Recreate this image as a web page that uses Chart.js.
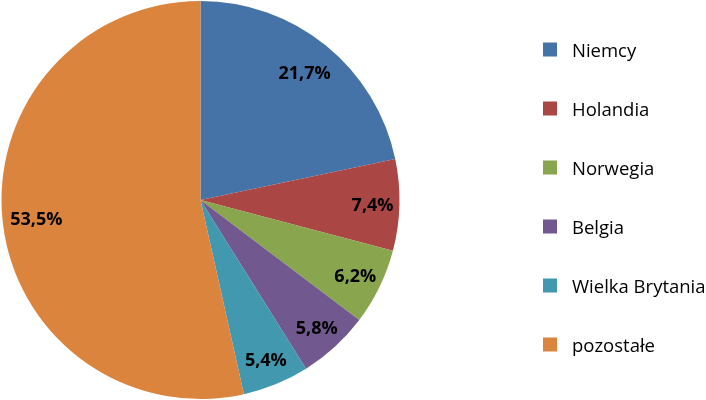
<!DOCTYPE html>
<html>
<head>
<meta charset="utf-8">
<script src="https://cdn.jsdelivr.net/npm/chart.js@4/dist/chart.umd.min.js"></script>
<style>
    html, body { margin: 0; padding: 0; background: #fff; }
    #wrap { position: relative; width: 706px; height: 400px; }
</style>
</head>
<body>
<div id="wrap"><canvas id="pie"></canvas></div>
<script>
const countries = ['Niemcy', 'Holandia', 'Norwegia', 'Belgia', 'Wielka Brytania', 'pozostałe'];
const shares = [21.7, 7.4, 6.2, 5.8, 5.4, 53.5];
const sliceColors = ['#4572A7', '#AA4643', '#89A54E', '#71588F', '#4198AF', '#DB843D'];

const FONT = '"Open Sans", "DejaVu Sans", sans-serif';

// percentage labels inside the slices
const sliceLabels = {
    id: 'sliceLabels',
    afterDatasetsDraw(chart) {
        const ctx = chart.ctx;
        const meta = chart.getDatasetMeta(0);
        ctx.save();
        ctx.font = 'bold 18px ' + FONT;
        ctx.fillStyle = '#000';
        ctx.textAlign = 'center';
        ctx.textBaseline = 'middle';
        meta.data.forEach((arc, i) => {
            const p = arc.getProps(['x', 'y', 'startAngle', 'endAngle', 'outerRadius'], true);
            const mid = (p.startAngle + p.endAngle) / 2;
            // big slices get their label a bit further in
            const r = p.outerRadius * (shares[i] > 15 ? 0.83 : 0.865);
            const txt = shares[i].toFixed(1).replace('.', ',') + '%';
            ctx.fillText(txt, p.x + Math.cos(mid) * r, p.y + Math.sin(mid) * r + 2);
        });
        ctx.restore();
    }
};

// legend on the right
const sideLegend = {
    id: 'sideLegend',
    afterDraw(chart) {
        const ctx = chart.ctx;
        ctx.save();
        ctx.font = '18.5px ' + FONT;
        ctx.textBaseline = 'alphabetic';
        ctx.textAlign = 'left';
        countries.forEach((name, i) => {
            const y = 49.5 + i * 59;
            ctx.fillStyle = sliceColors[i];
            ctx.fillRect(543, y - 7, 14, 14);
            ctx.fillStyle = '#000';
            ctx.fillText(name, 572, y + 7);
        });
        ctx.restore();
    }
};

new Chart(document.getElementById('pie'), {
    type: 'pie',
    data: {
        labels: countries,
        datasets: [{
            data: shares,
            backgroundColor: sliceColors,
            borderWidth: 0
        }]
    },
    options: {
        responsive: true,
        maintainAspectRatio: false,
        animation: false,
        layout: { padding: { left: 1, top: 1, bottom: 1, right: 306 } },
        plugins: {
            legend: { display: false },
            tooltip: { enabled: false }
        }
    },
    plugins: [sliceLabels, sideLegend]
});
</script>
</body>
</html>
